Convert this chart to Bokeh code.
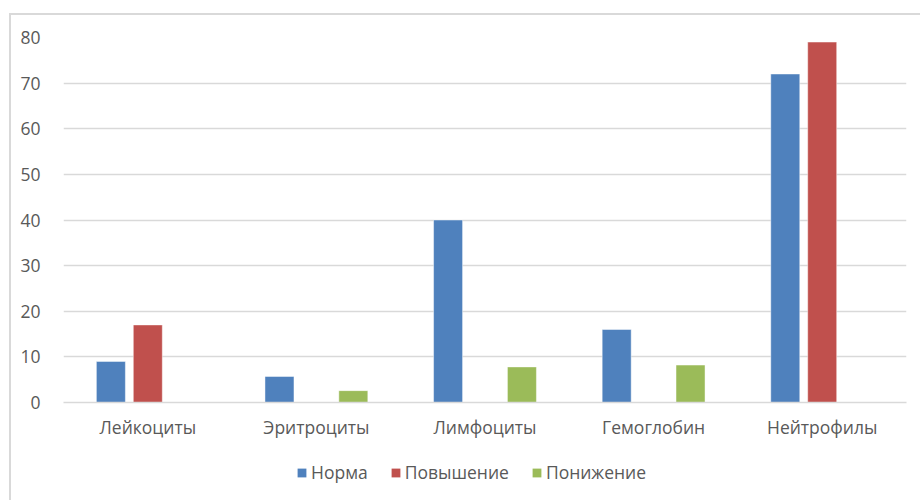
from bokeh.plotting import figure
from bokeh.models import ColumnDataSource, Legend, LegendItem, FixedTicker, Range1d
from bokeh.layouts import column
from bokeh.embed import file_html
from bokeh.resources import INLINE

categories = ["Лейкоциты", "Эритроциты", "Лимфоциты", "Гемоглобин", "Нейтрофилы"]
series_names = ["Норма", "Повышение", "Понижение"]
norma = [9, 5.7, 40, 16, 72]
povyshenie = [17, 0, 0, 0, 79]
ponizhenie = [0, 2.6, 7.8, 8.2, 0]
y_ticks = [0, 10, 20, 30, 40, 50, 60, 70, 80]
colors = ["#4F81BD", "#C0504D", "#9BBB59"]

FONT = "Open Sans"
TXT = "#595959"
FS = "17.5px"

p = figure(width=909, height=435, output_backend="svg", toolbar_location=None,
           x_range=Range1d(-0.5, 4.5), y_range=Range1d(0, 80),
           min_border_left=52, min_border_right=14, min_border_top=22, min_border_bottom=48)
p.outline_line_color = None
p.background_fill_color = "white"
p.border_fill_color = "white"

xs = list(range(len(categories)))
offsets = [-0.219, 0.0, 0.219]
for vals, off, col in zip([norma, povyshenie, ponizhenie], offsets, colors):
    src = ColumnDataSource(dict(x=[x + off for x in xs], top=vals))
    p.vbar(x="x", top="top", bottom=0, width=0.172, source=src,
           fill_color=col, line_color="white", line_alpha=0.45, line_width=1)

p.xgrid.visible = False
p.ygrid.ticker = FixedTicker(ticks=y_ticks)
p.ygrid.grid_line_color = "#d9d9d9"
p.ygrid.grid_line_width = 1.5

p.yaxis.ticker = FixedTicker(ticks=y_ticks)
p.yaxis.axis_line_color = None
p.yaxis.major_tick_line_color = None
p.yaxis.minor_tick_line_color = None
p.yaxis.major_label_text_font = FONT
p.yaxis.major_label_text_font_size = FS
p.yaxis.major_label_text_color = TXT
p.yaxis.major_label_standoff = 17

p.xaxis.ticker = FixedTicker(ticks=xs)
p.xaxis.major_label_overrides = {i: c for i, c in enumerate(categories)}
p.xaxis.axis_line_color = "#d9d9d9"
p.xaxis.axis_line_width = 1.5
p.xaxis.major_tick_line_color = None
p.xaxis.minor_tick_line_color = None
p.xaxis.major_label_text_font = FONT
p.xaxis.major_label_text_font_size = FS
p.xaxis.major_label_text_color = TXT
p.xaxis.major_label_standoff = 6

# legend strip below the chart (zero-height proxy bars only carry the legend swatches)
lg = figure(width=909, height=50, output_backend="svg", toolbar_location=None,
            x_range=Range1d(0, 1), y_range=Range1d(0, 1),
            min_border=0, min_border_left=0, min_border_right=0,
            min_border_top=0, min_border_bottom=0)
lg.axis.visible = False
lg.grid.visible = False
lg.outline_line_color = None
lg.background_fill_color = "white"
lg.border_fill_color = "white"
lg_renderers = []
for col in colors:
    r = lg.vbar(x=[0.5], top=[0], bottom=[0], width=0.0, fill_color=col, line_color=None)
    lg_renderers.append(r)

legend = Legend(items=[LegendItem(label=n, renderers=[r]) for n, r in zip(series_names, lg_renderers)],
                orientation="horizontal", location=(233, 16),
                glyph_width=11, glyph_height=11, label_standoff=4, spacing=22,
                label_height=20, padding=0, margin=0, border_line_color=None,
                background_fill_alpha=0,
                label_text_font=FONT, label_text_font_size=FS, label_text_color=TXT)
lg.add_layout(legend, "center")

layout = column(p, lg, spacing=0, margin=(13, 0, 0, 9),
                styles={"border-left": "2px solid #d9d9d9", "border-top": "2px solid #d9d9d9"})

open("out.html", "w").write(file_html(layout, INLINE))
